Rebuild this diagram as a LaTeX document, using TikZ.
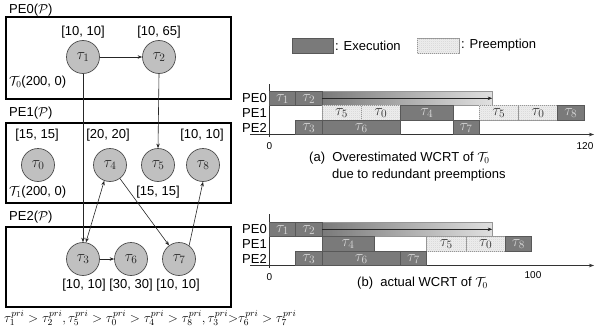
\RequirePackage{fix-cm}
\documentclass[tikz,border=0pt]{standalone}
\usepackage{fontspec}
\setmainfont{Liberation Sans}
\usetikzlibrary{arrows.meta,patterns.meta}
\definecolor{execfill}{RGB}{122,122,122}
\definecolor{execdraw}{RGB}{88,88,88}
\definecolor{exectext}{RGB}{215,215,215}
\definecolor{prefill}{RGB}{236,236,236}
\definecolor{predraw}{RGB}{150,150,150}
\definecolor{pretext}{RGB}{55,55,55}
\definecolor{taskfill}{RGB}{192,192,192}
\tikzdeclarepattern{
  name=finedots,
  type=uncolored,
  bottom left={(-.1pt,-.1pt)},
  top right={(2.1pt,2.1pt)},
  tile size={(2pt,2pt)},
  code={\fill (0.5pt,0.5pt) rectangle (1.1pt,1.1pt); \fill (1.5pt,1.5pt) rectangle (2pt,2pt);}
}
\newcommand\gx[1]{{269.5+2.62*(#1)}}
% style, start, end, row top, label, name
\newcommand\gbox[6]{%
  \draw[#1] (\gx{#2},{#4}) rectangle (\gx{#3},{#4+14.5});
  \node[#1txt] (#6) at (\gx{(#2+#3)/2},{#4+7.8}) {#5};}
\begin{document}
\begin{tikzpicture}[x=1pt,y=-1pt,
  every node/.style={font=\fontsize{13}{15}\selectfont, inner sep=0pt},
  bigtau/.style={font=\fontsize{16}{18}\selectfont},
  task/.style={circle, draw=black!70, fill=taskfill, minimum size=33pt, line width=0.7pt, text=black!85, bigtau},
  pebox/.style={draw=black, line width=1.3pt},
  arr/.style={-{Stealth[length=4.5pt,width=3.5pt]}, line width=0.6pt, draw=black!85},
  darr/.style={{Stealth[length=4.5pt,width=3.5pt]}-{Stealth[length=4.5pt,width=3.5pt]}, line width=0.6pt, draw=black!85},
  exec/.style={fill=execfill, draw=execdraw, line width=0.5pt},
  exectxt/.style={text=exectext, bigtau},
  pre/.style={fill=prefill, draw=predraw, line width=0.5pt, postaction={pattern=finedots, pattern color=black!14}},
  pretxt/.style={text=pretext, bigtau},
  axislbl/.style={font=\fontsize{10}{12}\selectfont},
  axis/.style={line width=0.6pt, draw=black!80},
]
\useasboundingbox (0,0) rectangle (599,332);

% ---------------- left: task graph ----------------
\draw[pebox] (6,17) rectangle (231,99);
\draw[pebox] (6,123) rectangle (231,203);
\draw[pebox] (6,227) rectangle (231,307);
\node[anchor=west] (pe0) at (9,10) {PE0($\mathcal{P}$)};
\node[anchor=west] (pe1) at (9,113) {PE1($\mathcal{P}$)};
\node[anchor=west] (pe2) at (9,217) {PE2($\mathcal{P}$)};

\node[task] (t1) at (83,57) {$\tau_1$};
\node[task] (t2) at (159,57) {$\tau_2$};
\node (l1) at (83,32) {[10, 10]};
\node (l2) at (159,32) {[10, 65]};
\node[anchor=west] (g0) at (9,82) {$\mathcal{T}_0$(200, 0)};

\node[task] (t0) at (38,165) {$\tau_0$};
\node[task] (t4) at (110,165) {$\tau_4$};
\node[task] (t5) at (158,165) {$\tau_5$};
\node[task] (t8) at (203,165) {$\tau_8$};
\node (l0) at (37,135) {[15, 15]};
\node (l4) at (108,135) {[20, 20]};
\node (l8) at (202,135) {[10, 10]};
\node (l5) at (158,192) {[15, 15]};
\node[anchor=west] (g1) at (9,192) {$\mathcal{T}_1$(200, 0)};

\node[task] (t3) at (83,259) {$\tau_3$};
\node[task] (t6) at (131,259) {$\tau_6$};
\node[task] (t7) at (179,259) {$\tau_7$};
\node (l367) at (131,285) {[10, 10] [30, 30] [10, 10]};

\draw[arr] (t1) -- (t2);
\draw[arr] (t3) -- (t6);
\draw[arr] (t1.south) -- (t3.north);
\draw[arr] (t2.south) -- (t5.north);
\draw[darr] (t3.80) -- (t4.250);
\draw[arr] (t4) -- (t7);
\draw[arr] (t7.53) -- (t8.270);

\node[anchor=west, font=\fontsize{13.3}{15}\selectfont] (prio) at (4,318) {$\tau_1^{pri} > \tau_2^{pri}, \tau_5^{pri} > \tau_0^{pri} > \tau_4^{pri} > \tau_8^{pri}, \tau_3^{pri}{>}\tau_6^{pri} > \tau_7^{pri}$};

% ---------------- legend ----------------
\draw[exec] (292,38) rectangle (333,53);
\node[anchor=west] (lgexec) at (335,45.5) {: Execution};
\draw[pre] (417,38) rectangle (459,53);
\node[anchor=west] (lgpre) at (461,45.5) {: Preemption};

% ---------------- chart (a) ----------------
\draw[axis] (269.5,84) -- (269.5,137);
\draw[axis,-{Stealth[length=5pt,width=3.5pt]}] (250,134.5) -- (594,134.5);
\node[anchor=east] (a0) at (267,98.5) {PE0};
\node[anchor=east] (a1) at (267,113) {PE1};
\node[anchor=east] (a2) at (267,127.5) {PE2};
\node[axislbl] (ax0) at (269.5,146.5) {0};
\node[axislbl] (ax120) at (585,146.5) {120};

\shade[left color=execfill, right color=black!12, draw=predraw, line width=0.5pt] (\gx{20},91) rectangle (\gx{85},105.5);
\gbox{exec}{0}{10}{91}{$\tau_1$}{a01}
\gbox{exec}{10}{20}{91}{$\tau_2$}{a02}
\coordinate (aas) at (\gx{20},98.3);
\coordinate (aae) at (\gx{85},98.3);
\draw[arr] (aas) -- (aae);

\gbox{pre}{20}{35}{105.5}{$\tau_5$}{a11}
\gbox{pre}{35}{50}{105.5}{$\tau_0$}{a12}
\gbox{exec}{50}{70}{105.5}{$\tau_4$}{a13}
\gbox{pre}{80}{95}{105.5}{$\tau_5$}{a14}
\gbox{pre}{95}{110}{105.5}{$\tau_0$}{a15}
\gbox{exec}{110}{120}{105.5}{$\tau_8$}{a16}

\gbox{exec}{10}{20}{120}{$\tau_3$}{a21}
\gbox{exec}{20}{50}{120}{$\tau_6$}{a22}
\gbox{exec}{70}{80}{120}{$\tau_7$}{a23}

\node[anchor=west] (capa1) at (309,158) {(a)\ \ Overestimated WCRT of $\mathcal{T}_0$};
\node[anchor=west] (capa2) at (332,175) {due to redundant preemptions};

% ---------------- chart (b) ----------------
\draw[axis] (269.5,214) -- (269.5,268);
\draw[axis,-{Stealth[length=5pt,width=3.5pt]}] (250,265.5) -- (594,265.5);
\node[anchor=east] (b0) at (267,229.5) {PE0};
\node[anchor=east] (b1) at (267,244) {PE1};
\node[anchor=east] (b2) at (267,258.5) {PE2};
\node[axislbl] (bx0) at (269.5,277) {0};
\node[axislbl] (bx100) at (533,275.5) {100};

\shade[left color=execfill, right color=black!12, draw=predraw, line width=0.5pt] (\gx{20},222) rectangle (\gx{85},236.5);
\gbox{exec}{0}{10}{222}{$\tau_1$}{b01}
\gbox{exec}{10}{20}{222}{$\tau_2$}{b02}
\coordinate (bas) at (\gx{20},229.3);
\coordinate (bae) at (\gx{85},229.3);
\draw[arr] (bas) -- (bae);

\gbox{exec}{20}{40}{236.5}{$\tau_4$}{b11}
\gbox{pre}{60}{75}{236.5}{$\tau_5$}{b12}
\gbox{pre}{75}{90}{236.5}{$\tau_0$}{b13}
\gbox{exec}{90}{100}{236.5}{$\tau_8$}{b14}

\gbox{exec}{10}{20}{251}{$\tau_3$}{b21}
\gbox{exec}{20}{50}{251}{$\tau_6$}{b22}
\gbox{exec}{50}{60}{251}{$\tau_7$}{b23}

\node[anchor=west] (capb) at (357,283) {(b)\ \ actual WCRT of $\mathcal{T}_0$};
\end{tikzpicture}
\end{document}
